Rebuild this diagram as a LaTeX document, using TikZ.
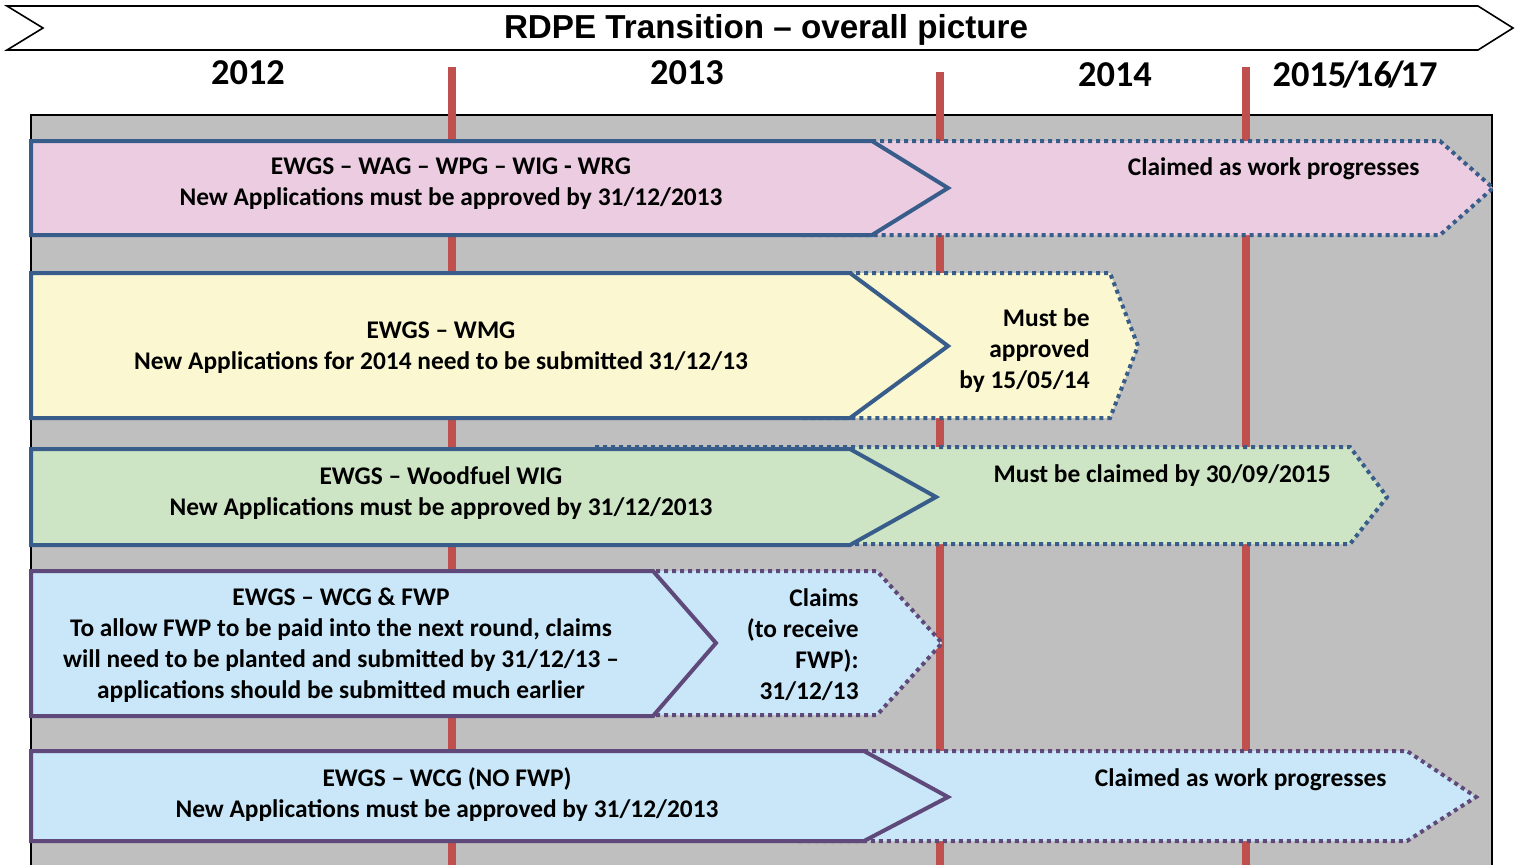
\documentclass[tikz,border=0pt]{standalone}
\usepackage{fontspec}
\setmainfont{Carlito}
\newfontfamily\titlefont{Liberation Sans}
\definecolor{bgGrey}{RGB}{191,191,191}
\definecolor{redLine}{RGB}{192,80,77}
\definecolor{blueEdge}{RGB}{56,93,138}
\definecolor{purpleEdge}{RGB}{95,73,122}
\definecolor{pinkFill}{RGB}{236,204,225}
\definecolor{yellowFill}{RGB}{251,247,208}
\definecolor{greenFill}{RGB}{205,229,197}
\definecolor{blueFill}{RGB}{201,231,248}
\tikzset{
  solidarrow/.style={line width=2pt, line join=miter},
  dottedarrow/.style={line width=2pt, dash pattern=on 2pt off 2pt, line join=miter},
  bodytext/.style={inner sep=0pt, font=\bfseries\fontsize{12.7}{15.5}\selectfont},
  yeartext/.style={inner sep=0pt, font=\bfseries\fontsize{18.2}{20}\selectfont},
  marker/.style={redLine, line width=4pt},
}
\newcommand{\slashk}{\kern-1.75pt/\kern-1.75pt}
\begin{document}
\begin{tikzpicture}[x=0.5pt,y=-0.5pt]
\useasboundingbox (0,0) rectangle (1525,864);
% title banner
\draw[black, line width=0.8pt, fill=white] (7,6) -- (1478,6) -- (1513,28) -- (1478,50) -- (7,50) -- (43,28) -- cycle;
\node[inner sep=0pt, font=\titlefont\bfseries\fontsize{16.6}{18}\selectfont] (title) at (766,29.5) {RDPE Transition – overall picture};
% years
\node[yeartext] (y2012) at (248,73) {2012};
\node[yeartext] (y2013) at (687,73) {2013};
\node[yeartext] (y2014) at (1115,75) {2014};
\node[yeartext] (y2015) at (1355,75) {2015\slashk16\slashk17};
% grey panel
\fill[bgGrey] (31,115) rectangle (1492,870);
\draw[black, line width=1pt] (31,870) -- (31,115) -- (1492,115) -- (1492,870);
% red markers
\draw[marker] (452,67) -- (452,870);
\draw[marker] (940,72) -- (940,870);
\draw[marker] (1246,67) -- (1246,870);

% Arrow 1 (pink)
\draw[dottedarrow, blueEdge, fill=pinkFill] (800,141) -- (1440,141) -- (1493,188) -- (1440,235) -- (800,235) -- cycle;
\draw[solidarrow, blueEdge, fill=pinkFill] (31,141) -- (872,141) -- (948,188) -- (872,235) -- (31,235) -- cycle;
\node[bodytext, align=center] (a1l) at (451,184) {EWGS – WAG – WPG – WIG - WRG\\New Applications must be approved by 31/12/2013};
\node[bodytext, anchor=east] (a1r) at (1420,168.5) {Claimed as work progresses};

% Arrow 2 (yellow)
\draw[dottedarrow, blueEdge, fill=yellowFill] (800,273) -- (1110,273) -- (1138,346) -- (1110,418) -- (800,418) -- cycle;
\draw[solidarrow, blueEdge, fill=yellowFill] (31,273) -- (850,273) -- (948,346) -- (850,418) -- (31,418) -- cycle;
\node[bodytext, align=center] (a2l) at (441,348) {EWGS – WMG\\New Applications for 2014 need to be submitted 31/12/13};
\node[bodytext, align=right, anchor=east] (a2r) at (1090,350.5) {Must be\\approved\\by 15/05/14};

% Arrow 3 (green)
\draw[dottedarrow, blueEdge, fill=greenFill] (595,447) -- (1350,447) -- (1387,497) -- (1350,544) -- (595,544) -- cycle;
\draw[solidarrow, blueEdge, fill=greenFill] (31,449) -- (850,449) -- (936,497) -- (850,545) -- (31,545) -- cycle;
\node[bodytext, align=center] (a3l) at (441,493) {EWGS – Woodfuel WIG\\New Applications must be approved by 31/12/2013};
\node[bodytext, anchor=east] (a3r) at (1331,475.5) {Must be claimed by 30/09/2015};

% Arrow 4 (blue, purple edge)
\draw[dottedarrow, purpleEdge, fill=blueFill] (600,571) -- (877,571) -- (942,643) -- (877,715) -- (600,715) -- cycle;
\draw[solidarrow, purpleEdge, fill=blueFill] (31,571) -- (653,571) -- (716,643) -- (653,716) -- (31,716) -- cycle;
\node[bodytext, align=center] (a4l) at (341,645) {EWGS – WCG \& FWP\\To allow FWP to be paid into the next round, claims\\will need to be planted and submitted by 31/12/13 –\\applications should be submitted much earlier};
\node[bodytext, align=right, anchor=east] (a4r) at (859,644.5) {Claims\\(to receive\\FWP):\\31/12/13};

% Arrow 5 (blue, purple edge)
\draw[dottedarrow, purpleEdge, fill=blueFill] (800,751) -- (1407,751) -- (1476,797) -- (1407,841) -- (800,841) -- cycle;
\draw[solidarrow, purpleEdge, fill=blueFill] (31,751) -- (864,751) -- (948,797) -- (864,841) -- (31,841) -- cycle;
\node[bodytext, align=center] (a5l) at (447,795) {EWGS – WCG (NO FWP)\\New Applications must be approved by 31/12/2013};
\node[bodytext, anchor=east] (a5r) at (1387,779.5) {Claimed as work progresses};
\end{tikzpicture}
\end{document}
